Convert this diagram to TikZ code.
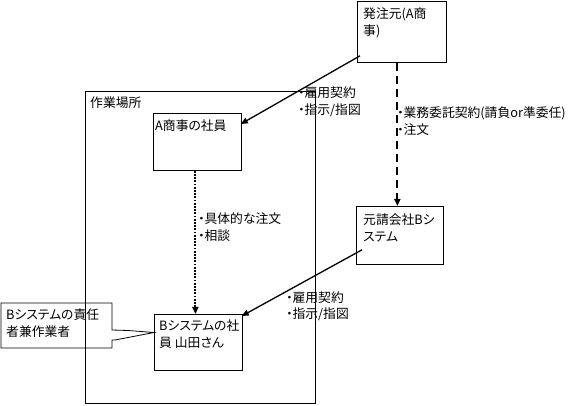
\documentclass[tikz,border=0pt]{standalone}
\usepackage{fontspec}
\setmainfont{Noto Sans CJK JP}[RawFeature={+palt}]
\usetikzlibrary{arrows.meta,calc}
\begin{document}
\begin{tikzpicture}[x=1pt,y=-1pt,
  box/.style={draw, line width=0.8pt, inner sep=0pt, anchor=north west},
  txt/.style={inner sep=0pt, anchor=base west, align=left, font=\fontsize{12.8}{17}\selectfont},
  arr/.style={-{Triangle[length=7pt,width=6pt]}, line width=1.3pt},
  dotarr/.style={arr, dash pattern=on 1.8pt off 1.4pt, line width=1.9pt},
  dasharr/.style={arr, dash pattern=on 8pt off 5pt, line width=1.9pt},
]
\useasboundingbox (0,0) rectangle (579,406);
% boxes
\node[box, minimum width=89pt, minimum height=60.5pt] (hatchu) at (357,1.5) {};
\node[box, minimum width=230pt, minimum height=312pt] (work) at (85,91) {};
\node[box, minimum width=88pt, minimum height=57pt] (asho) at (153,113) {};
\node[box, minimum width=87pt, minimum height=58pt] (moto) at (356,206) {};
\node[box, minimum width=88pt, minimum height=56pt] (bsys) at (154,314) {};
% box texts (base = last line)
\node[txt] (thatchu) at (363,35.5) {発注元(A商\\事)};
\node[txt] (twork) at (90,107.5) {作業場所};
\node[txt] (tasho) at (155,130.5) {A商事の社員};
\node[txt] (tmoto) at (363,241.5) {元請会社Bシ\\ステム};
\node[txt] (tbsys) at (159,347.5) {Bシステムの社\\員 山田さん};
% callout
\coordinate (ctip) at ($(bsys.north west)+(0,18.5)$);
\draw[line width=0.8pt] (1,303) -- (112,303) -- (112,330) -- (128,330.5) -- (ctip)
  -- (115,340) -- (112,340) -- (112,348) -- (1,348) -- cycle;
\node[txt] (tcall) at (6,336.5) {Bシステムの責任\\者兼作業者};
% connectors
\draw[arr] ($(hatchu.south west)+(3,-7)$) -- ($(asho.north east)+(-1,11)$);
\draw[dotarr] ($(asho.south)+(-2,0)$) -- ($(bsys.north)+(-3,0)$);
\draw[dasharr] ($(hatchu.south)+(-4.5,0)$) -- ($(moto.north)+(-2.5,0)$);
\draw[arr] ($(moto.south west)+(6,-15)$) -- ($(bsys.north east)+(-1,2)$);
% connector labels
\node[txt] (l1) at (298,114.5) {・雇用契約\\・指示/指図};
\node[txt] (l2) at (198,240.5) {・具体的な注文\\・相談};
\node[txt] (l3) at (397,134.5) {・業務委託契約(請負or準委任)\\・注文};
\node[txt] (l4) at (286,318.5) {・雇用契約\\[-1pt]・指示/指図};
\end{tikzpicture}
\end{document}
